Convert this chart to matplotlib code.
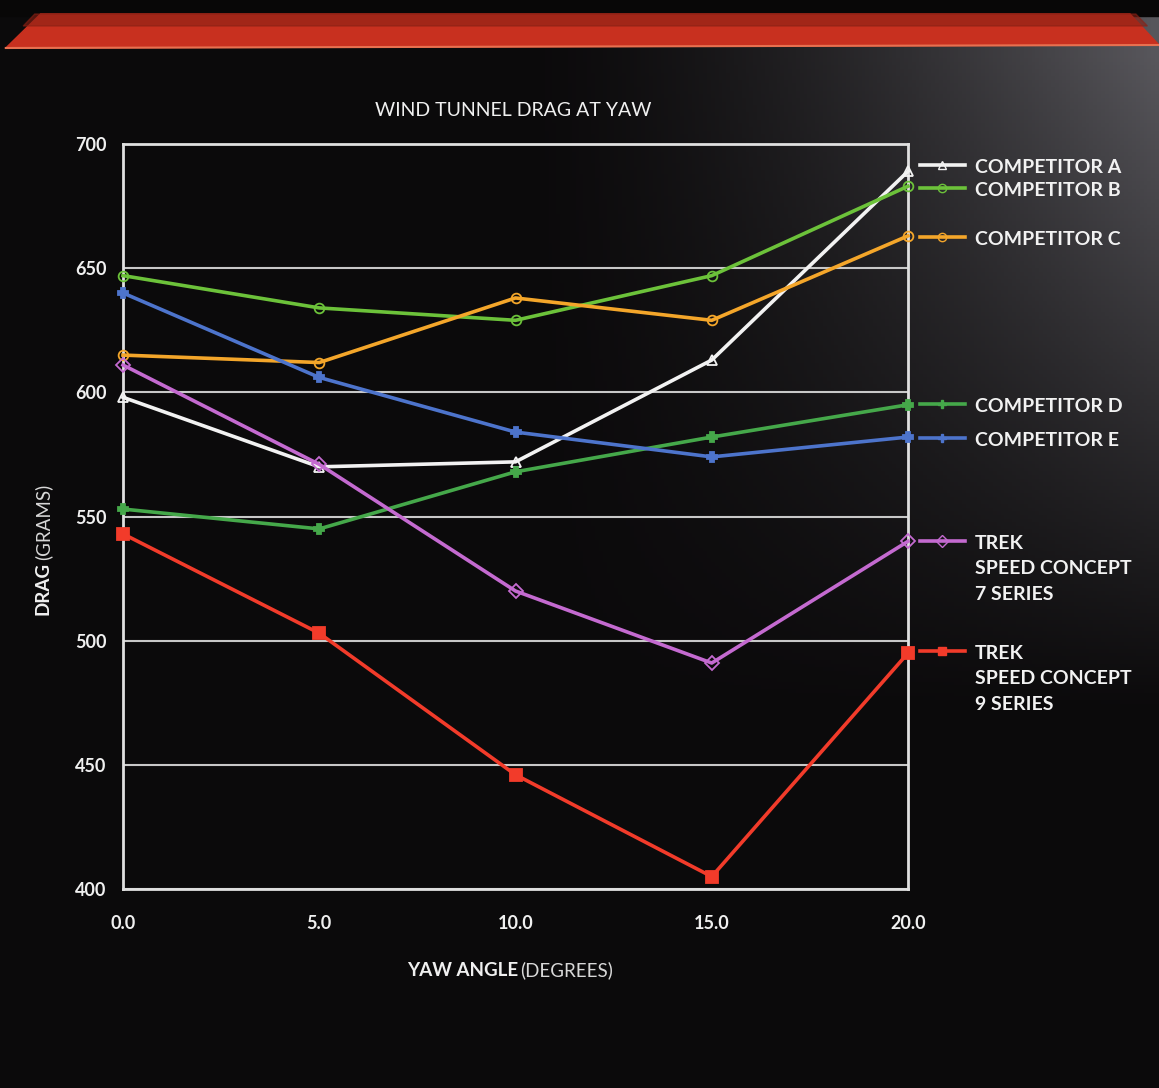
import numpy as np
import matplotlib
matplotlib.use("Agg")
import matplotlib.pyplot as plt
from matplotlib.patches import Polygon
from matplotlib.lines import Line2D

yaw = [0, 5, 10, 15, 20]
comp_a = [598, 570, 572, 613, 689]
comp_b = [647, 634, 629, 647, 683]
comp_c = [615, 612, 638, 629, 663]
comp_d = [553, 545, 568, 582, 595]
comp_e = [640, 606, 584, 574, 582]
trek_7 = [611, 571, 520, 491, 540]
trek_9 = [543, 503, 446, 405, 495]

names = ["COMPETITOR A", "COMPETITOR B", "COMPETITOR C", "COMPETITOR D",
         "COMPETITOR E", "TREK\nSPEED CONCEPT\n7 SERIES", "TREK\nSPEED CONCEPT\n9 SERIES"]
series = [comp_a, comp_b, comp_c, comp_d, comp_e, trek_7, trek_9]
colors = ["#f2f2f2", "#6cc23a", "#f4a62a", "#45a84a", "#4d74cc", "#c46ad0", "#f23b2a"]
markers = ["^", "o", "o", "P", "P", "D", "s"]
fills = ["none", "none", "none", "full", "full", "none", "full"]
# legend rows: pixel y of the first text line centre
legend_px = [165, 188, 237, 404, 438, 541, 651]

W, H = 1159, 1088
fig = plt.figure(figsize=(W / 100, H / 100), dpi=100)
fig.patch.set_facecolor("#0c0b0b")

# background gradient
bg = fig.add_axes([0, 0, 1, 1], zorder=-10)
gx, gy = np.meshgrid(np.linspace(0, 1, 300), np.linspace(0, 1, 300))
light = np.clip((gx - 0.45) / 0.55, 0, 1) ** 1.5 * np.clip(1 - (gy - 0.05) / 0.6, 0, 1) * 0.30
img = np.dstack([0.045 + light, 0.04 + light, 0.045 + light * 1.05])
bg.imshow(np.clip(img, 0, 1), extent=[0, 1, 0, 1], aspect="auto", origin="upper")
bg.set_xlim(0, 1)
bg.set_ylim(0, 1)
bg.axis("off")

# red top band
bg.add_patch(Polygon([[0.0, 1.0], [1.0, 1.0], [1.0, 0.985], [0.0, 0.985]], color="#080707"))
bg.add_patch(Polygon([[0.035, 1 - 14 / H], [0.975, 1 - 14 / H], [1.0, 1 - 45 / H], [0.005, 1 - 48 / H]],
                     color="#c8301f"))
bg.add_patch(Polygon([[0.03, 1 - 14 / H], [0.98, 1 - 14 / H], [0.99, 1 - 26 / H], [0.02, 1 - 26 / H]],
                     color="#8a2014", alpha=0.6))
bg.plot([0.005, 1.0], [1 - 48 / H, 1 - 45 / H], color="#e87050", lw=1.5)

ax = fig.add_axes([123 / W, 1 - 889 / H, 785 / W, 745 / H])
ax.set_facecolor("none")
for i in range(len(series)):
    ax.plot(yaw, series[i], color=colors[i], lw=2.6, marker=markers[i],
            markersize=7 if markers[i] != "s" else 8,
            markerfacecolor=colors[i] if fills[i] == "full" else "none",
            markeredgecolor=colors[i], markeredgewidth=1.3, clip_on=False, zorder=3)

ax.set_xlim(0, 20)
ax.set_ylim(400, 700)
ax.set_xticks(yaw)
ax.set_xticklabels(["%.1f" % v for v in yaw])
ax.set_yticks(range(400, 701, 50))
ax.yaxis.grid(True, color="#c8c8c8", lw=1.5)
ax.set_axisbelow(True)
for s in ax.spines.values():
    s.set_color("#e0e0e0")
    s.set_linewidth(2)
ax.tick_params(colors="#f0f0f0", length=0, labelsize=13, pad=12)
for lab in ax.get_xticklabels() + ax.get_yticklabels():
    lab.set_fontfamily("Lato")
    lab.set_fontweight("bold")
ax.tick_params(axis="x", pad=19)

fig.text(513 / W, 1 - 110 / H, "WIND TUNNEL DRAG AT YAW", color="#f0f0f0", fontsize=14,
         family="Lato", ha="center", va="center")

fig.text(518 / W, 1 - 970 / H, "YAW ANGLE", color="#f0f0f0", fontsize=13.5, family="Lato",
         fontweight="bold", ha="right", va="center")
fig.text(520 / W, 1 - 970 / H, "(DEGREES)", color="#d8d8d8", fontsize=13.5, family="Lato",
         ha="left", va="center")
fig.text(43 / W, 1 - 615 / H, "DRAG", color="#f0f0f0", fontsize=13.5, family="Lato",
         fontweight="bold", rotation=90, ha="center", va="bottom")
fig.text(43 / W, 1 - 560 / H, "(GRAMS)", color="#d8d8d8", fontsize=13.5, family="Lato",
         rotation=90, ha="center", va="bottom")

# legend
for i in range(len(names)):
    yy = 1 - legend_px[i] / H
    fig.add_artist(Line2D([920 / W, 965 / W], [yy, yy], transform=fig.transFigure,
                          color=colors[i], lw=2.6))
    fig.add_artist(Line2D([942 / W], [yy], transform=fig.transFigure, color=colors[i],
                          marker=markers[i], markersize=6,
                          markerfacecolor=colors[i] if fills[i] == "full" else "none",
                          markeredgecolor=colors[i]))
    fig.text(975 / W, yy + 6 / H, names[i], color="#f2f2f2", fontsize=14, family="Lato",
             fontweight="bold", ha="left", va="top", linespacing=1.6)

fig.savefig("out.png", dpi=100, facecolor=fig.get_facecolor())
